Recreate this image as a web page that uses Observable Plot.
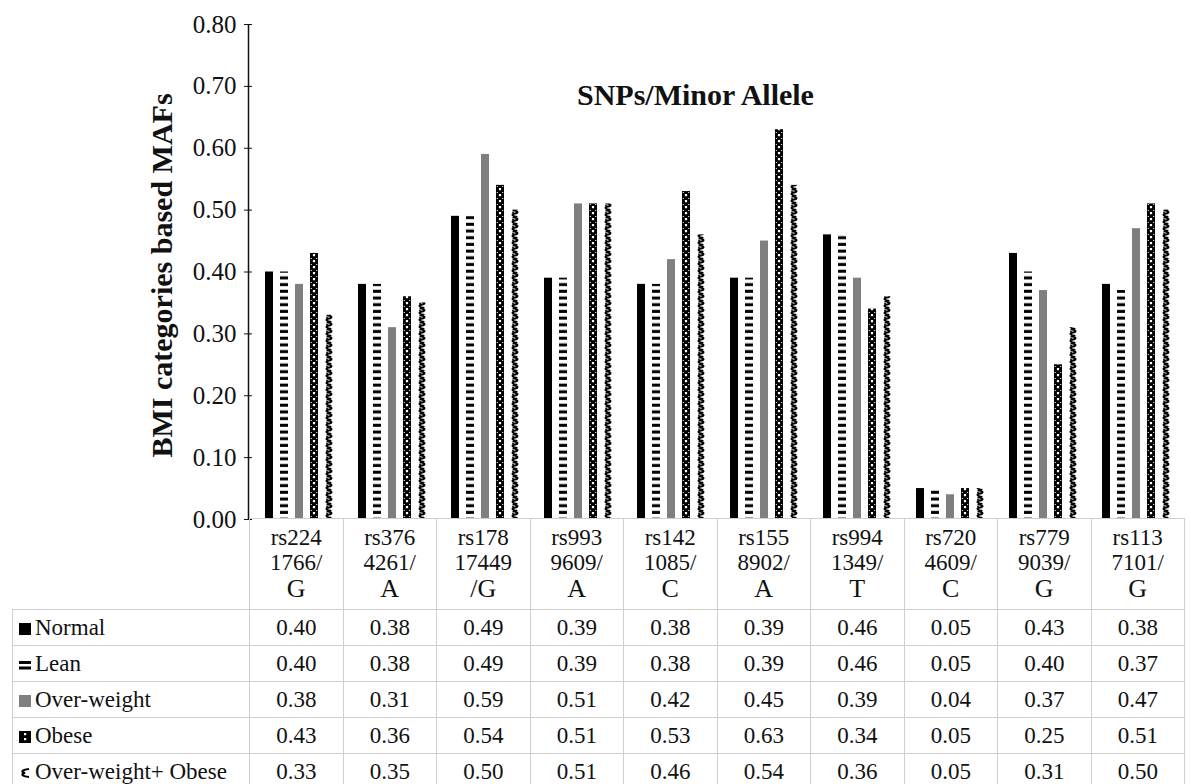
<!DOCTYPE html>
<html>
<head>
<meta charset="utf-8">
<script src="https://cdn.jsdelivr.net/npm/d3@7"></script>
<script src="https://cdn.jsdelivr.net/npm/@observablehq/plot@0.6"></script>
<style>
  html, body { margin: 0; padding: 0; background: #fff; font-family: "Liberation Serif", serif; }
  #wrap { position: relative; width: 1191px; height: 784px; overflow: hidden; font-family: "Liberation Serif", serif; }
  #chart { position: absolute; left: 0; top: 0; }
  #chart text { font-family: "Liberation Serif", serif; }
  #tbl { position: absolute; left: 12px; top: 518px; border-collapse: collapse; table-layout: fixed; width: 1172px; color: #111; font-family: "Liberation Serif", serif; }
  #tbl td { font-family: "Liberation Serif", serif; border: 1.5px solid #cfcfcf; padding: 0; text-align: center; font-size: 23px; height: 35px; line-height: 35px; white-space: nowrap; overflow: hidden; }
  #tbl tr.head td { height: 91px; vertical-align: top; line-height: 25px; padding-top: 6px; box-sizing: border-box; }
  #tbl tr.head td.corner { border: none; }
  #tbl td.lab { text-align: left; padding-left: 5px; }
  #tbl .l3 { font-size: 26px; line-height: 28px; display: block; }
  #tbl .l12 { display: block; }
  .key { display: inline-block; width: 14px; height: 14px; vertical-align: -1px; margin-right: 3px; }
</style>
</head>
<body>
<div id="wrap">
  <svg width="0" height="0" style="position:absolute">
    <defs>
      <pattern id="pLean" patternUnits="userSpaceOnUse" x="0" y="0" width="100" height="6.7">
        <rect x="0" y="0" width="100" height="6.7" fill="#fff"></rect>
        <rect x="0" y="1.7" width="100" height="3" fill="#000"></rect>
      </pattern>
      <pattern id="pObese" patternUnits="userSpaceOnUse" x="0" y="0" width="9" height="6"></pattern>
      <pattern id="pOWO" patternUnits="userSpaceOnUse" x="0" y="0" width="9" height="7"></pattern>
    </defs>
  </svg>
  <div id="chart"></div>
  <table id="tbl"></table>
</div>
<script>
// ---- data ----
const snpLine1 = ["rs224", "rs376", "rs178", "rs993", "rs142", "rs155", "rs994", "rs720", "rs779", "rs113"];
const snpLine2 = ["1766/", "4261/", "17449", "9609/", "1085/", "8902/", "1349/", "4609/", "9039/", "7101/"];
const snpLine3 = ["G", "A", "/G", "A", "C", "A", "T", "C", "G", "G"];
const series = ["Normal", "Lean", "Over-weight", "Obese", "Over-weight+ Obese"];
const normal     = [0.40, 0.38, 0.49, 0.39, 0.38, 0.39, 0.46, 0.05, 0.43, 0.38];
const lean       = [0.40, 0.38, 0.49, 0.39, 0.38, 0.39, 0.46, 0.05, 0.40, 0.37];
const overweight = [0.38, 0.31, 0.59, 0.51, 0.42, 0.45, 0.39, 0.04, 0.37, 0.47];
const obese      = [0.43, 0.36, 0.54, 0.51, 0.53, 0.63, 0.34, 0.05, 0.25, 0.51];
const owObese    = [0.33, 0.35, 0.50, 0.51, 0.46, 0.54, 0.36, 0.05, 0.31, 0.50];
const yTicks = [0, 0.1, 0.2, 0.3, 0.4, 0.5, 0.6, 0.7, 0.8];
const chartTitle = "SNPs/Minor Allele";
const yLabel = "BMI categories based MAFs";

const snps = snpLine1.map((s, i) => s + snpLine2[i] + snpLine3[i]);
const seriesValues = [normal, lean, overweight, obese, owObese];
const fills = ["#000000", "url(#pLean)", "#7f7f7f", "url(#pObese)", "url(#pOWO)"];

const data = [];
seriesValues.forEach((vals, si) => vals.forEach((v, ci) => data.push({snp: snps[ci], series: series[si], value: v})));

const chart = Plot.plot({
  width: 1191,
  height: 522,
  marginLeft: 249,
  marginRight: 7,
  marginTop: 24,
  marginBottom: 3,
  style: {fontFamily: "'Liberation Serif', serif", background: "white", color: "#111", overflow: "visible"},
  fx: {domain: snps, padding: 0, axis: null},
  x: {domain: series, paddingInner: 0.48, paddingOuter: 0.74, axis: null},
  y: {domain: [0, 0.8]},
  marks: [
    ...series.map((s, i) => Plot.barY(data.filter(d => d.series === s), {fx: "snp", x: "series", y: "value", fill: fills[i]})),
    Plot.axisY({ticks: yTicks, tickFormat: d3.format(".2f"), tickSize: 8, tickPadding: 8, fontSize: 25, label: null})
  ]
});
document.getElementById("chart").appendChild(chart);

// align the patterns with the bars
function alignPattern(id, build) {
  const r = chart.querySelector(`g[fill="url(#${id})"] rect`);
  if (!r) return;
  const x = +r.getAttribute("x"), w = +r.getAttribute("width");
  const p = document.getElementById(id);
  p.setAttribute("x", x);
  p.setAttribute("width", w);
  build(p, w);
}
alignPattern("pObese", (p, w) => {
  p.innerHTML = `<rect x="0" y="0" width="${w}" height="6" fill="#000"/>` +
    `<rect x="${w / 2 - 1.1}" y="2" width="2.2" height="2.2" fill="#fff"/>` +
    `<rect x="0.8" y="0" width="1" height="1" fill="#fff"/>` +
    `<rect x="${w - 1.8}" y="0" width="1" height="1" fill="#fff"/>`;
});
alignPattern("pOWO", (p, w) => {
  p.innerHTML = `<rect x="0" y="0" width="${w}" height="7" fill="#fff"/>` +
    `<path d="M${w * 0.2},0 C${w * 0.95},1 ${w * 0.95},3 ${w * 0.5},3.5 S${w * 0.05},6 ${w * 0.8},7" fill="none" stroke="#000" stroke-width="2"/>` +
    `<circle cx="${w * 0.25}" cy="2.3" r="0.9" fill="#000"/>`;
});

// axis line, title and y label
const ys = chart.scale("y");
const svg = d3.select(chart);
svg.append("line")
  .attr("x1", 248.5).attr("x2", 248.5)
  .attr("y1", ys.apply(0.8)).attr("y2", ys.apply(0))
  .attr("stroke", "#111").attr("stroke-width", 1.5);
svg.append("text")
  .attr("x", 577).attr("y", 105)
  .attr("text-anchor", "start")
  .attr("font-size", 30).attr("font-weight", "bold").attr("fill", "#111")
  .text(chartTitle);
svg.append("text")
  .attr("transform", `translate(172,${(ys.apply(0.8) + ys.apply(0)) / 2 + 4}) rotate(-90)`)
  .attr("text-anchor", "middle")
  .attr("font-size", 30).attr("font-weight", "bold").attr("fill", "#111")
  .text(yLabel);

// data table below the chart
const keys = [
  `<svg class="key" viewBox="0 0 14 14"><rect x="1" y="1" width="12" height="12" fill="#000"/></svg>`,
  `<svg class="key" viewBox="0 0 14 14"><rect x="1" y="3" width="12" height="3" fill="#000"/><rect x="1" y="8.5" width="12" height="3" fill="#000"/></svg>`,
  `<svg class="key" viewBox="0 0 14 14"><rect x="1" y="1" width="12" height="12" fill="#7f7f7f"/></svg>`,
  `<svg class="key" viewBox="0 0 14 14"><rect x="1" y="1" width="12" height="12" fill="#000"/><rect x="6" y="3" width="2.2" height="2.2" fill="#fff"/><rect x="6" y="8" width="2.2" height="2.2" fill="#fff"/></svg>`,
  `<svg class="key" viewBox="0 0 14 14"><path d="M11,3 C3,4 3,6 7,7 C3,8 3,10 11,11" fill="none" stroke="#000" stroke-width="2.2"/></svg>`
];
const tbl = document.getElementById("tbl");
let html = `<colgroup><col style="width:237px">` + snps.map(() => `<col style="width:93.5px">`).join("") + `</colgroup>`;
html += `<tr class="head"><td class="corner"></td>` +
  snps.map((s, i) => `<td><span class="l12">${snpLine1[i]}</span><span class="l12">${snpLine2[i]}</span><span class="l3">${snpLine3[i]}</span></td>`).join("") + `</tr>`;
series.forEach((s, si) => {
  html += `<tr><td class="lab">${keys[si]}${s}</td>` +
    seriesValues[si].map(v => `<td>${d3.format(".2f")(v)}</td>`).join("") + `</tr>`;
});
tbl.innerHTML = html;
</script>
</body>
</html>
